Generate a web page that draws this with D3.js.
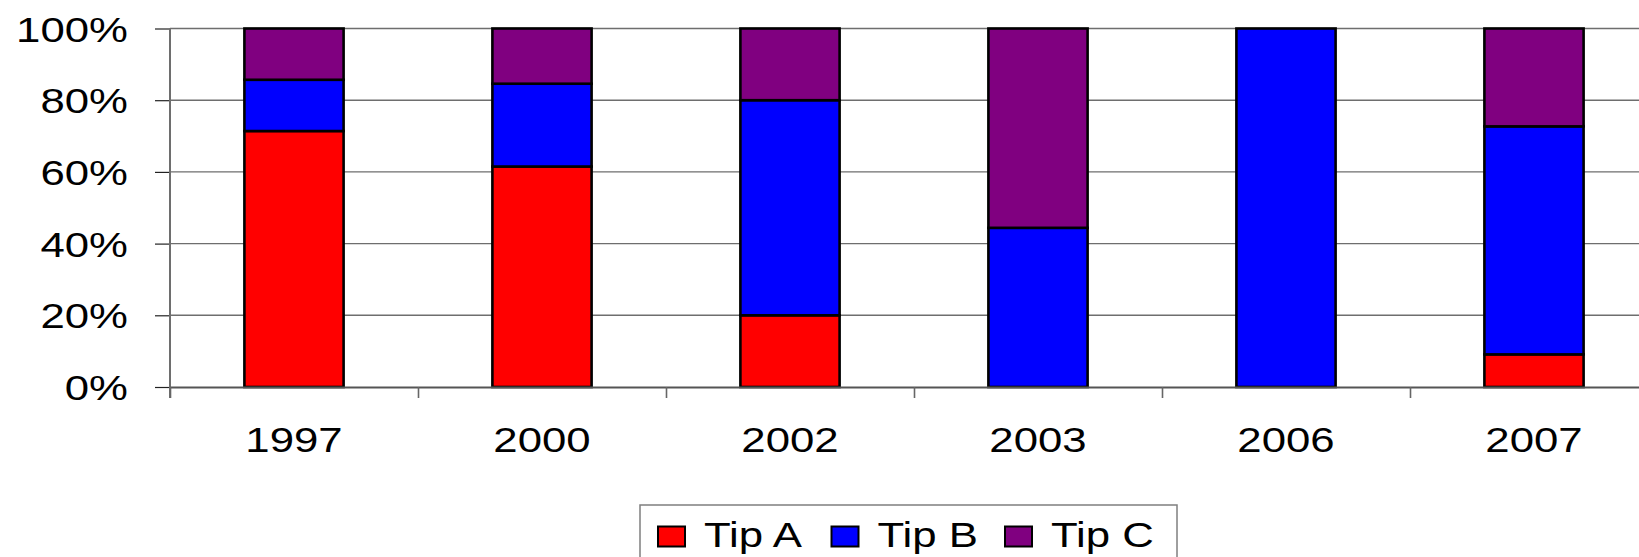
<!DOCTYPE html>
<html>
<head>
<meta charset="utf-8">
<script src="https://cdn.jsdelivr.net/npm/d3@7"></script>
<style>
  body { margin: 0; background: #fff; }
  svg { display: block; }
  text { font-family: "Liberation Sans", Arial, sans-serif; fill: #000; }
</style>
</head>
<body>
<div id="chart"></div>
<script>
// categories and stacked shares
var years = ["1997", "2000", "2002", "2003", "2006", "2007"];
var tipA = [0.714, 0.615, 0.20, 0.0, 0.0, 0.091];
var tipB = [0.143, 0.231, 0.60, 0.444, 1.0, 0.636];
var tipC = [0.143, 0.154, 0.20, 0.556, 0.0, 0.273];
var seriesNames = ["Tip A", "Tip B", "Tip C"];
var seriesColors = ["#ff0000", "#0000ff", "#800080"];
var yTicks = [0, 0.2, 0.4, 0.6, 0.8, 1.0];

var W = 1639, H = 557;
var stretch = 1.25; // text in the original is widened horizontally

var svg = d3.select("#chart").append("svg")
  .attr("width", W)
  .attr("height", H);

var plotLeft = 170, plotTop = 28.5, plotBottom = 387;
var step = 248;

// x band scale, the plot runs off the right edge like the original
var x = d3.scaleBand()
  .domain(years)
  .range([plotLeft, plotLeft + step * years.length])
  .paddingInner(0.6)
  .paddingOuter(0.3);

var y = d3.scaleLinear()
  .domain([0, 1])
  .range([plotBottom, plotTop]);

// boundary positions between categories
var xEdge = d3.scaleLinear()
  .domain([0, years.length])
  .range([plotLeft, plotLeft + step * years.length]);

// gridlines
svg.append("g")
  .selectAll("line")
  .data(yTicks.slice(1))
  .enter()
  .append("line")
  .attr("x1", plotLeft)
  .attr("x2", W)
  .attr("y1", function (d) { return y(d); })
  .attr("y2", function (d) { return y(d); })
  .style("stroke", "#6e6e6e")
  .style("stroke-width", 1.4);

// stack the data
var table = years.map(function (yr, i) {
  return { year: yr, "Tip A": tipA[i], "Tip B": tipB[i], "Tip C": tipC[i] };
});
var stacked = d3.stack().keys(seriesNames)(table);

svg.append("g")
  .selectAll("g")
  .data(stacked)
  .enter()
  .append("g")
  .attr("fill", function (d, i) { return seriesColors[i]; })
  .selectAll("rect")
  .data(function (d) { return d.filter(function (s) { return s[1] - s[0] > 0; }); })
  .enter()
  .append("rect")
  .attr("x", function (d) { return x(d.data.year); })
  .attr("width", x.bandwidth())
  .attr("y", function (d) { return y(d[1]); })
  .attr("height", function (d) { return y(d[0]) - y(d[1]); })
  .style("stroke", "#000")
  .style("stroke-width", 2.6);

// y axis
var yAxis = svg.append("g")
  .attr("transform", "translate(" + plotLeft + ",0)")
  .call(d3.axisLeft(y).tickValues(yTicks).tickFormat(d3.format(".0%")).tickSize(15).tickSizeOuter(0));
yAxis.select(".domain").remove();
yAxis.selectAll(".tick line").style("stroke", "#222").style("stroke-width", 1.2);
yAxis.selectAll(".tick text")
  .attr("x", -42 / stretch)
  .attr("dy", "0.36em")
  .attr("transform", "scale(" + stretch + ",1)")
  .style("font-size", "35px");

// vertical axis line
svg.append("line")
  .attr("x1", plotLeft).attr("x2", plotLeft)
  .attr("y1", plotTop).attr("y2", plotBottom + 11)
  .style("stroke", "#6e6e6e")
  .style("stroke-width", 2);

// category boundary ticks and base line
var edgeAxis = svg.append("g")
  .attr("transform", "translate(0," + plotBottom + ")")
  .call(d3.axisBottom(xEdge).tickValues(d3.range(0, years.length + 1)).tickFormat("").tickSize(11).tickSizeOuter(0));
edgeAxis.select(".domain").style("stroke", "#555").style("stroke-width", 1.8);
edgeAxis.selectAll(".tick line").style("stroke", "#666").style("stroke-width", 1.6);

// category labels
var xAxis = svg.append("g")
  .attr("transform", "translate(0," + plotBottom + ")")
  .call(d3.axisBottom(x).tickSize(0));
xAxis.select(".domain").remove();
xAxis.selectAll(".tick text")
  .attr("y", 64.7)
  .attr("dy", 0)
  .attr("transform", "scale(" + stretch + ",1)")
  .style("font-size", "35px");

// legend
var legend = svg.append("g").attr("class", "legend");
legend.append("rect")
  .attr("x", 640)
  .attr("y", 505)
  .attr("width", 537)
  .attr("height", 70)
  .style("fill", "#fff")
  .style("stroke", "#7f7f7f")
  .style("stroke-width", 1.5);

var legendItems = legend.selectAll(".legend-item")
  .data(seriesNames)
  .enter()
  .append("g")
  .attr("class", "legend-item")
  .attr("transform", function (d, i) { return "translate(" + (658 + i * 173.5) + ",0)"; });

legendItems.append("rect")
  .attr("x", 0)
  .attr("y", 526.5)
  .attr("width", 27)
  .attr("height", 20)
  .style("fill", function (d, i) { return seriesColors[i]; })
  .style("stroke", "#000")
  .style("stroke-width", 2);

legendItems.append("text")
  .attr("x", 46 / stretch)
  .attr("y", 546.7)
  .attr("transform", "scale(" + stretch + ",1)")
  .style("font-size", "35px")
  .text(function (d) { return d; });
</script>
</body>
</html>
